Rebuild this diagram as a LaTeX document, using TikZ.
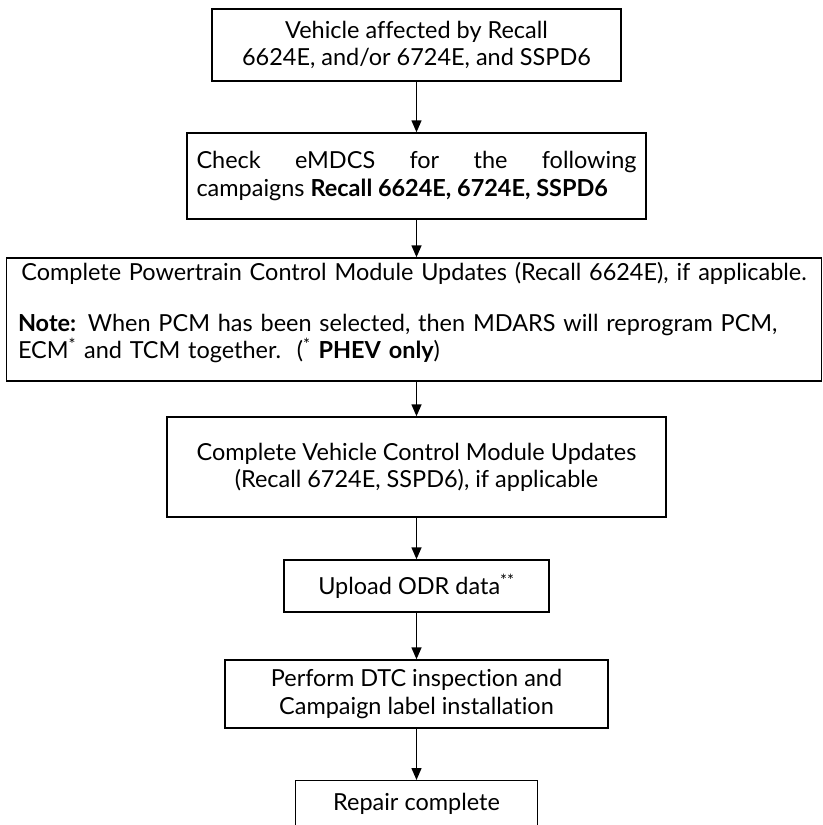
\documentclass[tikz,border=0pt]{standalone}
\usepackage{fontspec}
\setmainfont{Lato}[Ligatures=NoCommon]
\usetikzlibrary{arrows.meta}
\tikzset{
  box/.style={draw=black, line width=1.1pt, inner sep=0pt, align=center,
    font=\fontsize{17.6pt}{20.3pt}\selectfont},
  txt/.style={inner sep=0pt, font=\fontsize{17.6pt}{20.3pt}\selectfont},
  flow/.style={draw=black, line width=1.1pt, -{Triangle[length=9pt,width=7.5pt]}},
}
\begin{document}
\begin{tikzpicture}[x=0.75pt,y=-0.75pt]
\useasboundingbox (0,0) rectangle (822,825);
\clip (0,0) rectangle (822,825);
\node[box, minimum width=409*0.75pt, minimum height=72*0.75pt] (b1) at (416.5,45)
  {Vehicle affected by Recall\\6624E, and/or 6724E, and SSPD6};
\node[box, minimum width=459*0.75pt, minimum height=86*0.75pt, text width=440*0.75pt, align=justify] (b2) at (416.5,176)
  {Check eMDCS for the following\linebreak campaigns \textbf{Recall 6624E, 6724E, SSPD6}};
\node[box, minimum width=815*0.75pt, minimum height=123*0.75pt] (b3) at (414,319.5) {};
\node[txt, text width=792*0.75pt, align=left] (b3t) at (414,312.5)
  {\makebox[\linewidth][c]{Complete Powertrain Control Module Updates (Recall 6624E), if applicable.}\\[17.9pt]
   \textbf{Note:} When PCM has been selected, then MDARS will reprogram PCM,\\
   ECM\textsuperscript{*} and TCM together.\ \ (\textsuperscript{*} \textbf{PHEV only})};
\node[box, minimum width=499*0.75pt, minimum height=100*0.75pt] (b4) at (416.5,467)
  {Complete Vehicle Control Module Updates\\(Recall 6724E, SSPD6), if applicable};
\node[box, minimum width=265*0.75pt, minimum height=52*0.75pt] (b5) at (416.5,586)
  {Upload ODR data\textsuperscript{**}};
\node[box, minimum width=383*0.75pt, minimum height=68*0.75pt] (b6) at (416.5,694)
  {Perform DTC inspection and\\Campaign label installation};
\node[box, minimum width=242*0.75pt, minimum height=64*0.75pt, anchor=north] (b7) at (416.5,780)
  {\raisebox{16pt}{Repair complete}};
\draw[flow] (b1.south) -- (b2.north);
\draw[flow] (b2.south) -- (b2.south |- b3.north);
\draw[flow] (b2.south |- b3.south) -- (b4.north);
\draw[flow] (b4.south) -- (b5.north);
\draw[flow] (b5.south) -- (b6.north);
\draw[flow] (b6.south) -- (b7.north);
\end{tikzpicture}
\end{document}
